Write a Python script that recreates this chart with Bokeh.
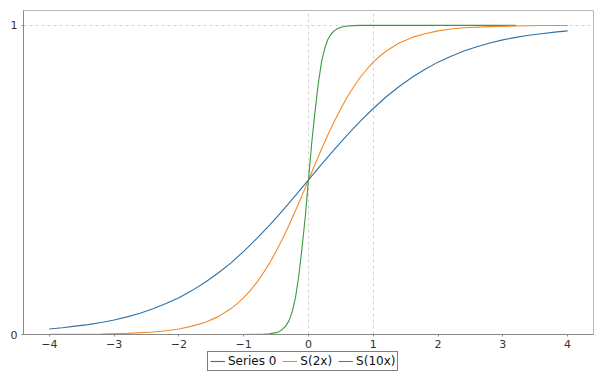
from bokeh.plotting import figure
from bokeh.layouts import column
from bokeh.models import Range1d, FixedTicker, Legend, LegendItem
from bokeh.embed import file_html
from bokeh.resources import INLINE

# ---- data ----
s0_x = [-4.0, -3.8, -3.6, -3.4, -3.2, -3.0, -2.8, -2.6, -2.4, -2.2, -2.0,
        -1.8, -1.6, -1.4, -1.2, -1.0, -0.8, -0.6, -0.4, -0.2, 0.0,
        0.2, 0.4, 0.6, 0.8, 1.0, 1.2, 1.4, 1.6, 1.8, 2.0,
        2.2, 2.4, 2.6, 2.8, 3.0, 3.2, 3.4, 3.6, 3.8, 4.0]
s0_y = [0.018, 0.022, 0.027, 0.032, 0.039, 0.047, 0.057, 0.069, 0.083, 0.100, 0.119,
        0.142, 0.168, 0.198, 0.231, 0.269, 0.310, 0.354, 0.401, 0.450, 0.500,
        0.550, 0.599, 0.646, 0.690, 0.731, 0.769, 0.802, 0.832, 0.858, 0.881,
        0.900, 0.917, 0.931, 0.943, 0.953, 0.961, 0.968, 0.973, 0.978, 0.982]

s2_x = [-4.0, -3.6, -3.2, -2.8, -2.4, -2.2, -2.0, -1.8, -1.6, -1.4, -1.2,
        -1.1, -1.0, -0.9, -0.8, -0.7, -0.6, -0.5, -0.4, -0.3, -0.2, -0.1, 0.0,
        0.1, 0.2, 0.3, 0.4, 0.5, 0.6, 0.7, 0.8, 0.9, 1.0, 1.1,
        1.2, 1.4, 1.6, 1.8, 2.0, 2.2, 2.4, 2.8, 3.2, 3.6, 4.0]
s2_y = [0.0003, 0.0007, 0.0017, 0.0037, 0.0082, 0.0121, 0.018, 0.027, 0.039, 0.057, 0.083,
        0.100, 0.119, 0.142, 0.168, 0.198, 0.231, 0.269, 0.310, 0.354, 0.401, 0.450, 0.500,
        0.550, 0.599, 0.646, 0.690, 0.731, 0.769, 0.802, 0.832, 0.858, 0.881, 0.900,
        0.917, 0.943, 0.961, 0.973, 0.982, 0.988, 0.992, 0.996, 0.998, 0.9993, 0.9997]

s10_x = [-4.0, -1.0, -0.8, -0.7, -0.6, -0.5, -0.45, -0.4, -0.35, -0.3, -0.25,
         -0.2, -0.15, -0.1, -0.05, 0.0, 0.05, 0.1, 0.15, 0.2, 0.25, 0.3,
         0.35, 0.4, 0.45, 0.5, 0.6, 0.7, 0.8, 1.0, 3.2]
s10_y = [0.0, 0.0, 0.0003, 0.0009, 0.0025, 0.006, 0.010, 0.017, 0.028, 0.045, 0.075,
         0.12, 0.19, 0.28, 0.38, 0.50, 0.62, 0.72, 0.81, 0.88, 0.925, 0.955,
         0.972, 0.983, 0.990, 0.994, 0.998, 0.999, 1.0, 1.0, 1.0]

x_ticks = [-4, -3, -2, -1, 0, 1, 2, 3, 4]
y_ticks = [0, 1]
x_grid = [0, 1]
y_grid = [1]

series_names = ["Series 0", "S(2x)", "S(10x)"]
colors = ["#2f72a8", "#f08a2a", "#3a9a3a"]
series = [(s0_x, s0_y), (s2_x, s2_y), (s10_x, s10_y)]

# ---- main chart ----
p = figure(width=594, height=350, output_backend="svg", toolbar_location=None,
           x_range=Range1d(-4.4, 4.4), y_range=Range1d(0, 1.048))
p.min_border_left = 23
p.min_border_right = 1
p.min_border_top = 10
p.min_border_bottom = 15
p.background_fill_color = "white"
p.border_fill_color = "white"
p.outline_line_color = "#b8b8b8"
p.outline_line_width = 1

for ax in (p.xaxis[0], p.yaxis[0]):
    ax.axis_line_color = "#888888"
    ax.major_tick_line_color = "#888888"
    ax.major_tick_in = 0
    ax.major_tick_out = 2
    ax.minor_tick_line_color = None
    ax.major_label_text_font = "DejaVu Sans"
    ax.major_label_text_font_size = "11px"
    ax.major_label_text_color = "#333333"

p.xaxis[0].ticker = FixedTicker(ticks=x_ticks)
p.yaxis[0].ticker = FixedTicker(ticks=y_ticks)
p.xaxis[0].major_label_standoff = 3
p.yaxis[0].major_label_standoff = 4

p.xgrid[0].ticker = FixedTicker(ticks=x_grid)
p.ygrid[0].ticker = FixedTicker(ticks=y_grid)
for g in (p.xgrid[0], p.ygrid[0]):
    g.grid_line_color = "#d4d4d4"
    g.grid_line_dash = "3 3"
    g.grid_line_width = 1

for (sx, sy), c in reversed(list(zip(series, colors))):
    p.line(sx, sy, line_color=c, line_width=1.1)

# ---- legend strip below the chart ----
q = figure(width=594, height=22, output_backend="svg", toolbar_location=None,
           x_range=Range1d(100, 101), y_range=Range1d(100, 101))
q.axis.visible = False
q.grid.visible = False
q.outline_line_color = None
q.background_fill_color = "white"
q.border_fill_color = "white"
q.min_border_left = 0
q.min_border_right = 0
q.min_border_top = 0
q.min_border_bottom = 0

lr = [q.line(sx, sy, line_color=c, line_width=1.1) for (sx, sy), c in zip(series, colors)]

legend = Legend(items=[LegendItem(label=n, renderers=[r]) for n, r in zip(series_names, lr)],
                orientation="horizontal", location=(184, 1))
legend.border_line_color = "black"
legend.border_line_width = 1
legend.background_fill_color = "white"
legend.background_fill_alpha = 1
legend.label_text_font = "DejaVu Sans"
legend.label_text_font_size = "12px"
legend.label_text_color = "#111111"
legend.glyph_width = 15
legend.glyph_height = 12
legend.label_height = 12
legend.label_standoff = 3
legend.spacing = 6
legend.padding = 2
legend.margin = 0
q.add_layout(legend, "center")

layout = column(p, q, spacing=0)
open("out.html", "w").write(file_html(layout, INLINE))
